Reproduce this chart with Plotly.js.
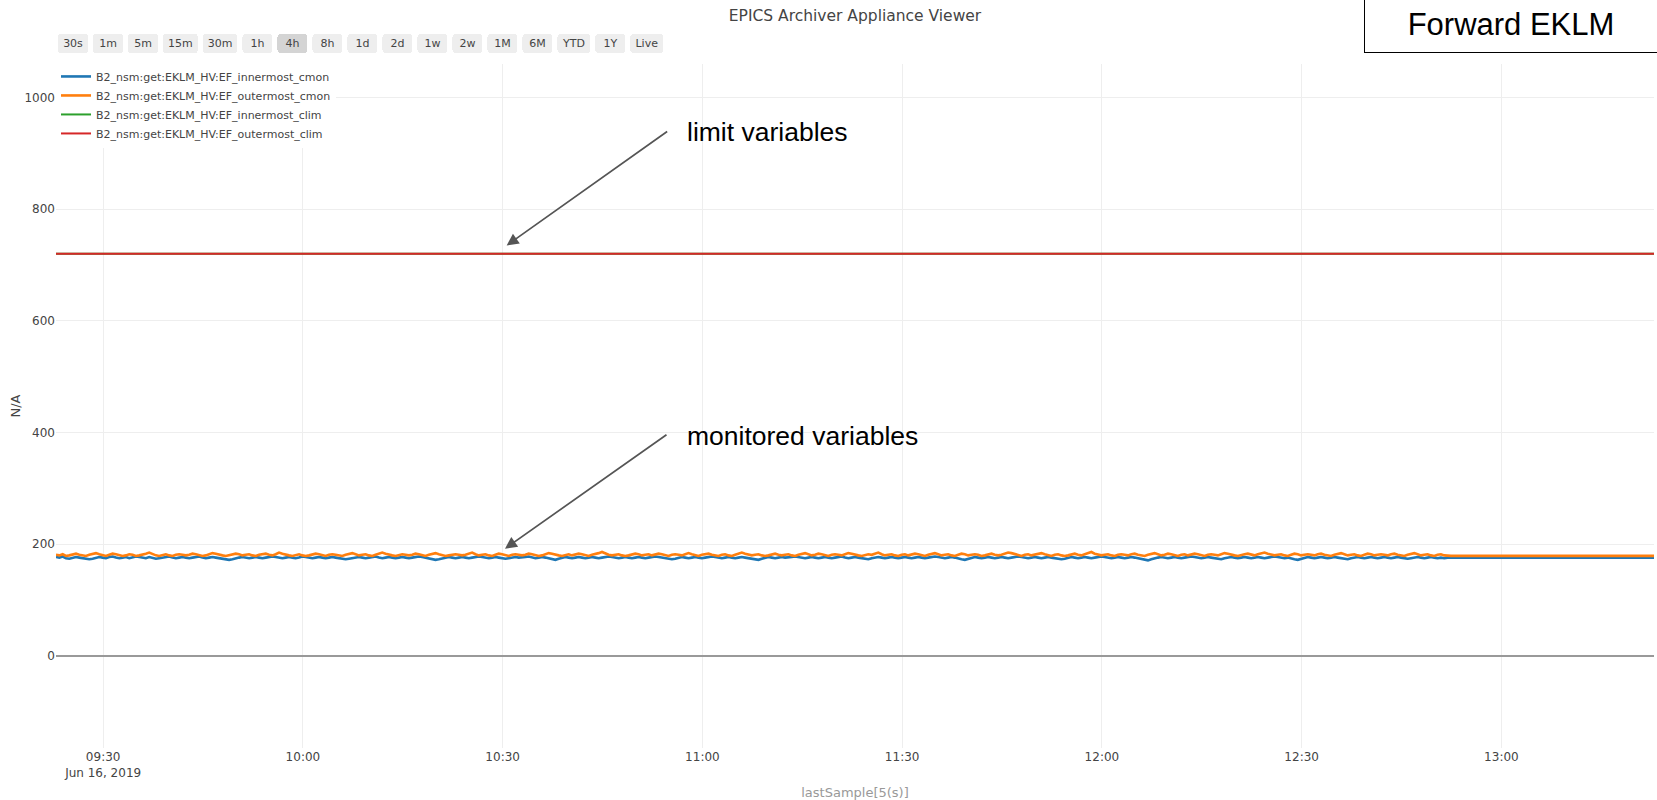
<!DOCTYPE html>
<html>
<head>
<meta charset="utf-8">
<script src="https://cdn.plot.ly/plotly-3.0.1.min.js"></script>
<style>
  html, body { margin: 0; padding: 0; background: #fff; }
  #chart { width: 1657px; height: 800px; }
</style>
</head>
<body>
<div id="chart"></div>
<script>
// ---------------- data ----------------
const seriesNames = [
  'B2_nsm:get:EKLM_HV:EF_innermost_cmon',
  'B2_nsm:get:EKLM_HV:EF_outermost_cmon',
  'B2_nsm:get:EKLM_HV:EF_innermost_clim',
  'B2_nsm:get:EKLM_HV:EF_outermost_clim'
];
const seriesColors = ['#1f77b4', '#ff7f0e', '#2ca02c', '#d62728'];

// sampled monitor values, one sample every 30 s starting at sampleStart
const sampleStart = '2019-06-16 09:22:55';
const sampleStepSec = 30;
const viewEnd = '2019-06-16 13:22:55';

const innermostCmon = [
177,176,178,175,174,175,177,176,175,174,173,174,176,177,176,175,177,178,176,175,
176,177,175,176,178,177,176,175,177,176,174,175,176,177,178,176,175,176,177,176,
175,176,177,178,176,175,176,177,176,175,174,173,172,173,175,176,177,176,175,176,
177,176,175,176,177,178,177,176,175,176,177,176,175,176,178,177,176,175,176,177,
176,175,176,177,176,175,174,173,174,175,176,177,176,175,176,177,178,176,175,176,
177,176,175,176,177,176,175,176,177,178,177,176,175,174,172,173,174,176,177,176,
175,176,177,176,175,176,177,178,177,176,175,176,177,176,175,174,175,176,177,176,
176,177,178,176,175,176,177,176,175,173,172,174,176,177,176,175,176,177,176,175,
176,177,176,175,176,177,178,177,176,175,176,177,176,175,176,177,176,175,176,177,
178,177,176,175,174,173,174,176,177,176,175,176,177,176,175,176,177,178,177,176,
175,176,177,176,175,176,177,176,175,174,173,172,174,176,177,176,175,176,177,176,
176,177,178,177,176,175,176,177,176,175,176,177,176,175,176,177,178,176,175,176,
177,176,175,174,173,175,176,177,176,175,176,177,176,175,176,177,176,175,176,177,
176,175,176,177,178,177,176,175,176,177,176,174,173,172,174,176,177,176,175,176,
177,176,175,176,177,176,175,176,177,178,177,176,175,176,177,176,175,176,177,176,
175,174,173,174,176,177,176,175,176,177,176,175,176,177,178,177,176,175,176,177,
176,175,176,177,176,175,173,172,171,173,175,176,177,176,175,176,177,176,175,176,
177,178,177,176,175,176,177,176,175,174,173,175,176,177,176,175,176,177,176,175,
176,177,176,175,176,177,178,177,176,175,176,174,173,172,174,176,177,176,175,176,
177,176,175,176,177,176,175,174,173,175,176,177,176,175,176,177,176,175,176,177,
176,175,176,177,176,175,174,175,176,177,176,175,176,177,176,175,176,175,176,176
];

const outermostCmon = [
181,180,182,179,180,181,183,181,180,179,181,182,184,182,180,179,181,183,182,180,
179,180,182,181,179,180,181,183,185,182,180,179,181,182,180,179,181,182,181,180,
181,183,182,180,179,180,182,184,183,181,180,179,180,181,183,182,180,181,182,180,
179,181,182,183,181,180,182,185,183,181,180,179,181,182,180,179,180,181,183,182,
180,179,181,182,181,180,179,181,183,184,182,180,181,182,180,179,181,183,185,183,
181,180,179,180,182,181,180,181,183,182,180,179,181,182,184,182,180,179,180,181,
182,181,180,181,183,185,182,180,181,182,180,179,181,183,182,180,179,181,182,181,
180,181,183,182,180,179,180,182,184,183,181,180,179,181,182,180,181,183,182,180,
179,181,182,184,186,183,181,180,181,182,180,179,180,181,183,182,180,181,182,180,
181,183,182,180,179,181,182,181,180,182,184,182,180,179,181,182,183,181,180,179,
181,182,180,179,181,183,185,183,181,180,181,182,180,179,180,182,183,181,180,181,
182,180,179,181,182,184,182,180,181,183,182,180,179,181,182,181,180,182,184,183,
181,180,179,180,182,181,183,185,182,180,181,182,180,179,181,182,180,181,183,182,
180,179,181,182,184,182,180,181,182,180,179,181,183,182,180,181,182,181,179,180,
182,183,181,180,181,183,185,184,182,180,179,181,182,180,181,182,184,182,180,179,
181,182,180,179,180,182,183,181,180,182,184,186,183,181,180,181,182,180,179,181,
182,181,180,182,183,181,180,179,181,182,184,182,180,181,183,182,180,179,181,182,
180,181,183,182,180,179,181,182,181,180,182,184,183,181,180,179,181,182,183,181,
180,182,184,185,183,181,180,181,182,180,179,181,183,182,180,181,182,181,180,182,
183,181,180,179,181,182,184,182,180,181,182,180,179,181,183,182,180,181,182,181,
180,182,183,181,180,179,181,182,184,182,180,181,182,180,179,181,182,180,179,179
];

// current limits (constant over the view)
const limitTimes = [sampleStart, viewEnd];
const innermostClim = [720, 720];
const outermostClim = [720, 720];

const rangeButtonLabels = ['30s','1m','5m','15m','30m','1h','4h','8h','1d','2d','1w','2w','1M','6M','YTD','1Y','Live'];
const rangeButtonSpecs = [
  [30,'second','backward'],[1,'minute','backward'],[5,'minute','backward'],[15,'minute','backward'],
  [30,'minute','backward'],[1,'hour','backward'],[4,'hour','backward'],[8,'hour','backward'],
  [1,'day','backward'],[2,'day','backward'],[7,'day','backward'],[14,'day','backward'],
  [1,'month','backward'],[6,'month','backward'],[1,'year','todate'],[1,'year','backward'],[1,'all','backward']
];

// ---------------- build ----------------
function pad2(n){ return (n < 10 ? '0' : '') + n; }
function parseTs(s){
  const m = s.match(/(\d+)-(\d+)-(\d+) (\d+):(\d+):(\d+)/);
  return Date.UTC(+m[1], +m[2]-1, +m[3], +m[4], +m[5], +m[6]);
}
function fmtTs(ms){
  const d = new Date(ms);
  return d.getUTCFullYear() + '-' + pad2(d.getUTCMonth()+1) + '-' + pad2(d.getUTCDate()) + ' ' +
         pad2(d.getUTCHours()) + ':' + pad2(d.getUTCMinutes()) + ':' + pad2(d.getUTCSeconds());
}
function sampleTimes(n){
  const t0 = parseTs(sampleStart);
  const out = [];
  for (let i = 0; i < n; i++) out.push(fmtTs(t0 + i * sampleStepSec * 1000));
  return out;
}
// archived values are held after the last sample until the end of the view
function withHold(times, vals){
  return { x: times.concat([viewEnd]), y: vals.concat([vals[vals.length-1]]) };
}

const innerS = withHold(sampleTimes(innermostCmon.length), innermostCmon);
const outerS = withHold(sampleTimes(outermostCmon.length), outermostCmon);

const traces = [
  { x: innerS.x, y: innerS.y, name: seriesNames[0], type: 'scatter', mode: 'lines', line: { color: seriesColors[0], width: 2.6 } },
  { x: outerS.x, y: outerS.y, name: seriesNames[1], type: 'scatter', mode: 'lines', line: { color: seriesColors[1], width: 2.6 } },
  { x: limitTimes, y: innermostClim, name: seriesNames[2], type: 'scatter', mode: 'lines', line: { color: seriesColors[2], width: 2 } },
  { x: limitTimes, y: outermostClim, name: seriesNames[3], type: 'scatter', mode: 'lines', line: { color: seriesColors[3], width: 2 } }
];

const baseFont = 'DejaVu Sans, Open Sans, sans-serif';
const noteFont = 'Liberation Sans, Arial, sans-serif';

const layout = {
  width: 1657, height: 800,
  margin: { l: 56, r: 3, t: 64, b: 52, pad: 0 },
  paper_bgcolor: '#fff', plot_bgcolor: '#fff',
  font: { family: baseFont, size: 12, color: '#444' },
  title: { text: 'EPICS Archiver Appliance Viewer', font: { family: baseFont, size: 15.5, color: '#444' },
           x: 0.5, xref: 'paper', y: 0.981, yref: 'container', yanchor: 'middle' },
  showlegend: true,
  legend: { x: 0, y: 1.003, xanchor: 'left', yanchor: 'top', bgcolor: '#fff',
            font: { family: baseFont, size: 11, color: '#444' } },
  xaxis: {
    type: 'date', range: [sampleStart, viewEnd], automargin: false,
    showgrid: true, gridcolor: '#eee', zeroline: false, showline: false,
    tickfont: { family: baseFont, size: 12, color: '#444' },
    title: { text: 'lastSample[5(s)]', font: { family: baseFont, size: 13, color: '#999' } },
    rangeselector: {
      x: 0.001, xanchor: 'left', y: 1.0155, yanchor: 'bottom',
      bgcolor: '#eee', activecolor: '#d4d4d4',
      font: { family: baseFont, size: 11, color: '#444' },
      buttons: rangeButtonLabels.map((lab, i) => ({
        label: lab, count: rangeButtonSpecs[i][0], step: rangeButtonSpecs[i][1], stepmode: rangeButtonSpecs[i][2]
      }))
    }
  },
  yaxis: {
    range: [-165, 1060], automargin: false, tick0: 0, dtick: 200,
    showgrid: true, gridcolor: '#eee',
    zeroline: true, zerolinecolor: '#999', zerolinewidth: 2,
    tickfont: { family: baseFont, size: 12, color: '#444' },
    title: { text: 'N/A', font: { family: baseFont, size: 13, color: '#444' } }
  },
  annotations: [
    { xref: 'paper', yref: 'paper', x: 0.9105, y: 1.0585, xanchor: 'center', yanchor: 'middle',
      text: 'Forward EKLM', showarrow: false, width: 292, height: 56,
      font: { family: noteFont, size: 31, color: '#000' },
      bgcolor: '#fff', bordercolor: '#000', borderwidth: 1, borderpad: 0 },
    { xref: 'x', yref: 'y', x: '2019-06-16 10:30:36', y: 735, text: '', showarrow: true,
      axref: 'pixel', ayref: 'pixel', ax: 162, ay: -115,
      arrowhead: 2, arrowsize: 1.4, arrowwidth: 1.7, arrowcolor: '#555' },
    { xref: 'x', yref: 'y', x: '2019-06-16 10:30:21', y: 192, text: '', showarrow: true,
      axref: 'pixel', ayref: 'pixel', ax: 163, ay: -115,
      arrowhead: 2, arrowsize: 1.4, arrowwidth: 1.7, arrowcolor: '#555' },
    { xref: 'paper', yref: 'paper', x: 0.3937, y: 0.9005, xanchor: 'left', yanchor: 'middle',
      text: 'limit variables', showarrow: false, font: { family: noteFont, size: 26.5, color: '#000' } },
    { xref: 'paper', yref: 'paper', x: 0.3937, y: 0.4565, xanchor: 'left', yanchor: 'middle',
      text: 'monitored variables', showarrow: false, font: { family: noteFont, size: 26.5, color: '#000' } }
  ]
};

Plotly.newPlot('chart', traces, layout, { displayModeBar: false, responsive: false });
</script>
</body>
</html>
